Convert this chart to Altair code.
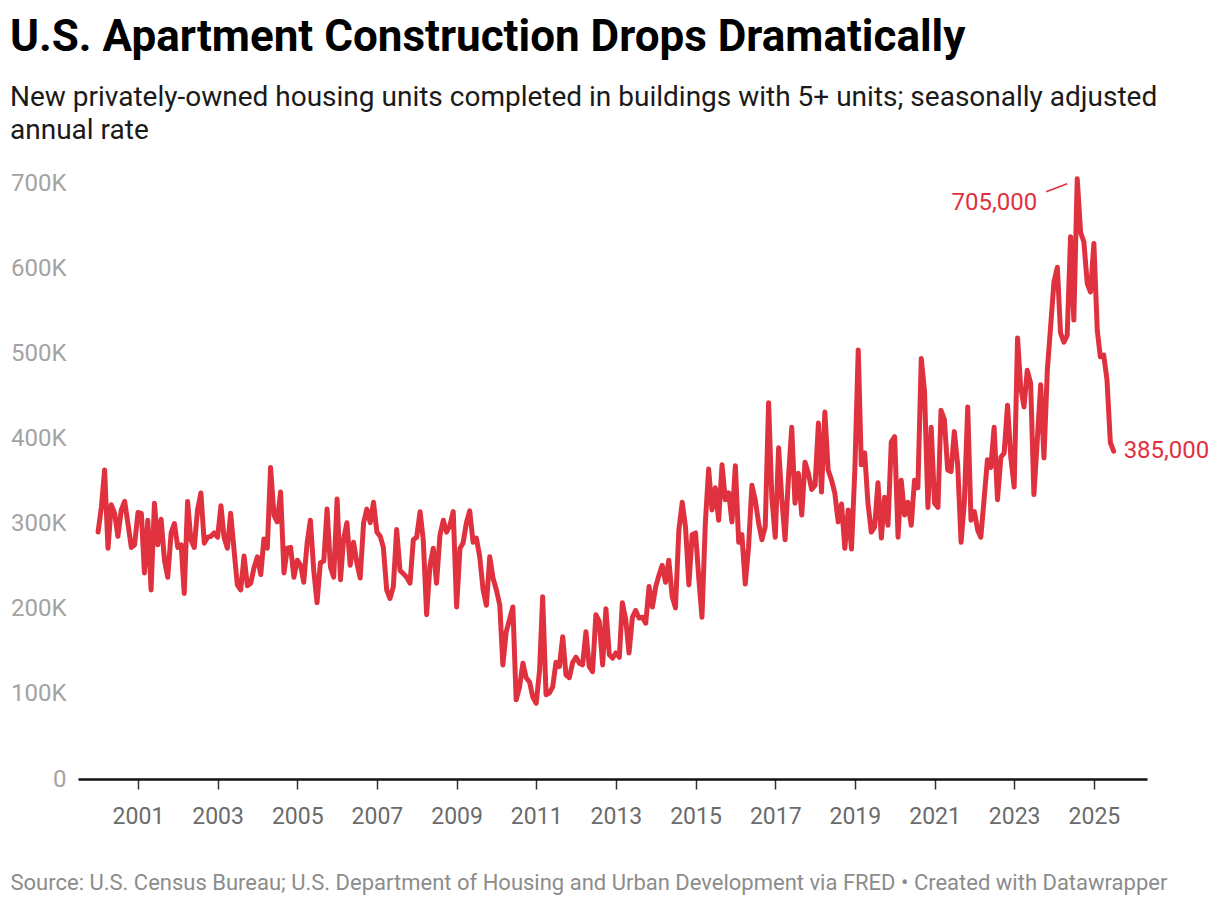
import altair as alt
import pandas as pd

# Monthly values (thousands of units, SAAR), Jan 2000 onward
v2000_2004 = [290, 320, 363, 271, 322, 312, 285, 316, 326, 300, 272, 275,
              313, 312, 242, 304, 222, 324, 275, 305, 257, 237, 289, 300,
              272, 275, 218, 326, 281, 272, 316, 336, 277, 284, 285, 289,
              284, 321, 284, 271, 312, 269, 228, 222, 262, 227, 230, 248,
              261, 240, 282, 271, 366, 310, 302, 337, 242, 271, 272, 237]
v2005_2009 = [257, 251, 231, 277, 304, 245, 207, 254, 256, 317, 249, 237,
              329, 234, 281, 301, 251, 278, 254, 236, 301, 317, 301, 325,
              290, 285, 272, 222, 212, 226, 293, 245, 241, 237, 230, 281,
              284, 314, 281, 193, 250, 271, 230, 286, 304, 290, 298, 314,
              202, 271, 277, 301, 315, 278, 283, 261, 222, 204, 261, 236]
v2010_2014 = [222, 204, 134, 173, 187, 202, 93, 108, 136, 119, 114, 96,
              89, 128, 214, 99, 101, 108, 137, 132, 167, 122, 119, 137,
              143, 136, 134, 173, 132, 126, 193, 185, 134, 200, 146, 142,
              148, 143, 207, 187, 148, 190, 198, 189, 190, 183, 226, 202,
              226, 240, 251, 231, 257, 214, 201, 292, 325, 296, 228, 287]
v2015_2019 = [289, 234, 190, 301, 364, 316, 342, 304, 369, 328, 336, 302,
              368, 278, 287, 229, 272, 345, 328, 301, 281, 296, 442, 330,
              284, 389, 331, 281, 351, 413, 324, 359, 310, 372, 359, 340,
              345, 418, 337, 431, 363, 351, 336, 302, 323, 271, 316, 270,
              363, 504, 369, 383, 324, 290, 296, 348, 283, 331, 298, 396]
v2020_2025 = [402, 284, 351, 310, 325, 298, 351, 342, 494, 455, 319, 413,
              324, 319, 433, 422, 363, 361, 408, 369, 278, 325, 437, 304,
              314, 292, 284, 330, 375, 366, 413, 328, 378, 383, 439, 378,
              343, 518, 461, 437, 480, 465, 334, 398, 463, 377, 480, 531,
              584, 601, 524, 513, 521, 637, 539, 705, 642, 631, 582, 572,
              629, 527, 496, 498, 469, 395, 385]

year_ticks = list(range(2001, 2026, 2))
y_ticks = [0, 100000, 200000, 300000, 400000, 500000, 600000, 700000]

title_text = "U.S. Apartment Construction Drops Dramatically"
subtitle_lines = ["New privately-owned housing units completed in buildings with 5+ units; seasonally adjusted",
                  "annual rate"]
source_text = ("Source: U.S. Census Bureau; U.S. Department of Housing and Urban Development "
               "via FRED \u2022 Created with Datawrapper")

values = [v * 1000 for v in (v2000_2004 + v2005_2009 + v2010_2014 + v2015_2019 + v2020_2025)]
dates = pd.date_range("2000-01-01", periods=len(values), freq="MS")
df = pd.DataFrame({"date": dates.strftime("%Y-%m-%d"), "value": values})

peak_idx = int(df["value"].idxmax())
peak_df = df.iloc[[peak_idx]].assign(label=lambda d: d["value"].map(lambda v: f"{v:,}"))
last_df = df.iloc[[len(df) - 1]].assign(label=lambda d: d["value"].map(lambda v: f"{v:,}"))

RED = "#e0313f"
FONT = "Roboto"

x_enc = alt.X(
    "date:T",
    scale=alt.Scale(domain=[alt.DateTime(year=1999, month=7, date=1),
                            alt.DateTime(year=2026, month=5, date=3)]),
    axis=alt.Axis(
        values=[alt.DateTime(year=y, month=1, date=1) for y in year_ticks],
        format="%Y", grid=False, domain=True, domainColor="#111111", domainWidth=2.5,
        ticks=True, tickColor="#333333", tickWidth=1.5, tickSize=10,
        labelPadding=16, labelFontSize=23, labelColor="#6b6b6b", labelFont=FONT,
        title=source_text, titleX=-68, titleY=103, titleAlign="left", titleAnchor="start",
        titleBaseline="middle", titleFontSize=22, titleFontWeight="normal",
        titleColor="#8c8c8c", titleFont=FONT,
    ),
)
y_enc = alt.Y(
    "value:Q",
    scale=alt.Scale(domain=[0, 700000], nice=False),
    axis=alt.Axis(
        values=y_ticks,
        labelExpr="datum.value == 0 ? '0' : format(datum.value / 1000, 'd') + 'K'",
        grid=False, domain=False, ticks=False, labelPadding=12,
        labelFontSize=24, labelColor="#a3a3a3", labelFont=FONT, title=None,
    ),
)

line = alt.Chart(df).mark_line(
    color=RED, strokeWidth=5, strokeJoin="round", strokeCap="round", clip=False
).encode(x=x_enc, y=y_enc)

peak_text = alt.Chart(peak_df).mark_text(
    align="right", baseline="middle", dx=-40, dy=24, fontSize=24, color=RED, font=FONT
).encode(x="date:T", y="value:Q", text="label:N")

peak_rule = alt.Chart(peak_df).mark_rule(
    color=RED, strokeWidth=1.5, xOffset=-31, yOffset=13, x2Offset=-10, y2Offset=5
).encode(x="date:T", x2="date:T", y="value:Q", y2="value:Q")

last_text = alt.Chart(last_df).mark_text(
    align="left", baseline="middle", dx=10, dy=0, fontSize=24, color=RED, font=FONT
).encode(x="date:T", y="value:Q", text="label:N")

chart = alt.layer(line, peak_rule, peak_text, last_text).properties(
    width=1069,
    height=596,
    autosize=alt.AutoSizeParams(type="none"),
    padding={"left": 70, "top": 175, "right": 65, "bottom": 119},
    title=alt.Title(
        text=title_text, subtitle=subtitle_lines, anchor="start", frame="group",
        dx=-68, offset=26, font=FONT, fontSize=44, fontWeight="bold", color="#000000",
        subtitleFont=FONT, subtitleFontSize=28, subtitleColor="#1a1a1a",
        subtitleLineHeight=33, subtitlePadding=24,
    ),
).configure(background="white").configure_view(stroke=None)

chart.save("out.html", embed_options={"renderer": "svg", "actions": False})
